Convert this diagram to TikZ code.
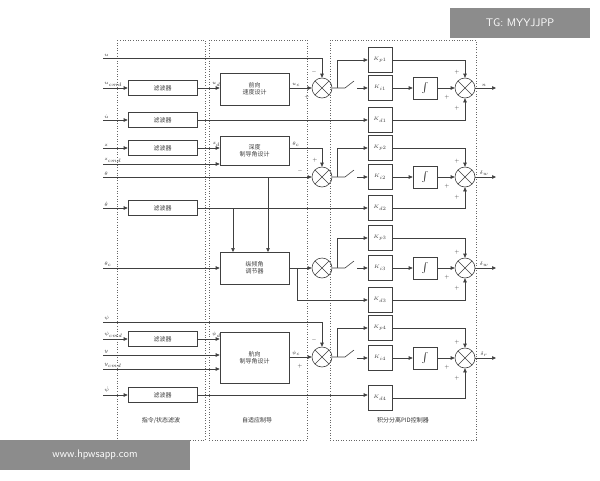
\documentclass[tikz,border=0pt]{standalone}
\usepackage{fontspec}
\newfontfamily\cjk{Noto Sans CJK SC}
\usetikzlibrary{arrows.meta}
\begin{document}
\begin{tikzpicture}[x=1pt,y=-1pt,line width=0.6pt,draw=black!75,
  >={Triangle[length=4pt,width=3.5pt]},
  blk/.style={draw=black!75,minimum width=69pt,minimum height=15pt,inner sep=0,font=\cjk\fontsize{6}{7}\selectfont,text=black!75},
  big/.style={draw=black!75,inner sep=0,font=\cjk\fontsize{6}{7}\selectfont,align=center,text=black!75},
  kb/.style={draw=black!75,minimum width=24pt,minimum height=25pt,inner sep=0,font=\fontsize{4.5}{5}\selectfont,text=black!75},
  ib/.style={draw=black!75,minimum width=24pt,minimum height=22pt,inner sep=0,font=\fontsize{5}{6}\selectfont},
  sm/.style={circle,draw=black!75,minimum size=20pt,inner sep=0,path picture={\draw[black!75] (path picture bounding box.north west)--(path picture bounding box.south east) (path picture bounding box.north east)--(path picture bounding box.south west);}},
  lb/.style={font=\fontsize{5}{6}\selectfont,text=black!80,inner sep=1pt},
  regn/.style={draw=black!60,dotted,line width=0.6pt},
  captn/.style={font=\cjk\fontsize{6}{7}\selectfont,text=black!80}]
\useasboundingbox (0,0) rectangle (600,480);
\fill[white] (0,0) rectangle (600,480);
% dashed regions
\draw[regn] (117,40) rectangle (205,440);
\draw[regn] (209,40) rectangle (307,440);
\draw[regn] (330,40) rectangle (476,440);
\node[captn] (c1) at (161,420) {指令/状态滤波};
\node[captn] (c2) at (257,420) {自适应制导};
\node[captn] (c3) at (403,420) {积分分离PID控制器};
% left input coordinates
\foreach \n/\y in {iu/58,iuc/88,iud/120,iz/148,izc/164,ith/177,ithd/208,ithc/268,ips/322,ipsc/339,iy/355,iyc/369,ipsd/395}
  \coordinate (\n) at (103,\y);
\node[lb,anchor=south west] at (iu) {$u$};
\node[lb,anchor=south west] at (iuc) {$u_{cmd}$};
\node[lb,anchor=south west] at (iud) {$\dot u$};
\node[lb,anchor=south west] at (iz) {$z$};
\node[lb,anchor=south west] at (izc) {$z_{cmd}$};
\node[lb,anchor=south west] at (ith) {$\theta$};
\node[lb,anchor=south west] at (ithd) {$\dot\theta$};
\node[lb,anchor=south west] at (ithc) {$\theta_c$};
\node[lb,anchor=south west] at (ips) {$\psi$};
\node[lb,anchor=south west] at (ipsc) {$\psi_{cmd}$};
\node[lb,anchor=south west] at (iy) {$y$};
\node[lb,anchor=south west] at (iyc) {$y_{cmd}$};
\node[lb,anchor=south west] at (103,394) {$\dot\psi$};
% filters
\node[blk] (f1) at (162.5,88) {滤波器};
\node[blk] (f2) at (162.5,120) {滤波器};
\node[blk] (f3) at (162.5,148) {滤波器};
\node[blk] (f4) at (162.5,208) {滤波器};
\node[blk] (f5) at (162.5,339) {滤波器};
\node[blk] (f6) at (162.5,395) {滤波器};
\draw[->] (iuc)--(f1); \draw[->] (iud)--(f2); \draw[->] (iz)--(f3);
\draw[->] (ithd)--(f4); \draw[->] (ipsc)--(f5); \draw[->] (ipsd)--(f6);
% guidance blocks
\node[big,minimum width=69pt,minimum height=32pt] (g1) at (254.5,89) {前向\\速度设计};
\node[big,minimum width=69pt,minimum height=29pt] (g2) at (254.5,150.5) {深度\\制导角设计};
\node[big,minimum width=69pt,minimum height=32pt] (g3) at (254.5,268) {纵倾角\\调节器};
\node[big,minimum width=69pt,minimum height=51pt] (g4) at (254.5,357.5) {航向\\制导角设计};
\draw[->] (f1)--node[lb,above,pos=0.85]{$u_d$}(g1.west|-f1);
\draw[->] (f3)--node[lb,above,pos=0.85]{$z_d$}(g2.west|-f3);
\draw[->] (izc)--(g2.west|-izc);
\draw[->] (ithc)--(g3);
\draw[->] (f5)--node[lb,above,pos=0.85]{$\psi_d$}(g4.west|-f5);
\draw[->] (iy)--(g4.west|-iy);
\draw[->] (iyc)--(g4.west|-iyc);
% sums
\node[sm] (s1) at (322,88) {};
\node[sm] (s2) at (322,177) {};
\node[sm] (s3) at (322,268) {};
\node[sm] (s4) at (322,357) {};
\draw[->] (iu)-|(s1);
\draw[->] (g1.east|-s1)--node[lb,above,pos=0.3]{$u_c$}(s1);
\node[lb] at (307,97) {$+$}; \node[lb] at (314,72) {$-$};
\draw[->] (g2.east|-iz)--node[lb,above,pos=0.2]{$\theta_c$}(322,148)--(s2);
\draw[->] (ith)--(s2);
\node[lb] at (315,160) {$+$}; \node[lb] at (300,171) {$-$};
\draw[->] (268,177)--(268,252);
\draw[->] (233,208)--(233,252);
\draw[->] (g3)--(s3);
\draw[->] (ips)-|(s4);
\draw[->] (g4.east|-s4)--node[lb,above,pos=0.3]{$\psi_c$}(s4);
\node[lb] at (314,340) {$-$}; \node[lb] at (300,366) {$+$};
% PID blocks
\foreach \r/\yp/\yi/\yd/\sy in {1/60/88/120/88, 2/148/177/208/177, 3/238/268/300/268, 4/328/358/398/357}{
  \node[kb] (kp\r) at (380,\yp) {$K_{p\r}$};
  \node[kb] (ki\r) at (380,\yi) {$K_{i\r}$};
  \node[kb] (kd\r) at (380,\yd) {$K_{d\r}$};
  \node[ib] (in\r) at (425,\yi) {$\int$};
  \node[sm] (so\r) at (465,\yi) {};
  \coordinate (br\r) at (337,\sy);
  \draw (s\r)--(br\r)--(345,\sy)--(354,\sy-7);
  \draw[->] (br\r)|-(kp\r);
  \draw[->] (357,\yi)--(ki\r);
  \draw[->] (ki\r)--(in\r);
  \draw[->] (in\r)--(so\r);
  \draw[->] (kp\r)-|(so\r);
  \draw[->] (kd\r)-|(so\r);
  \coordinate (out\r) at (496,\yi);
  \draw[->] (so\r)--(out\r);
  \node[lb] at (457,\yi-16) {$+$};
  \node[lb] at (447,\yi+9) {$+$};
  \node[lb] at (457,\yi+20) {$+$};
}
\node[lb,anchor=south] at (484,88) {$n$};
\node[lb,anchor=south] at (484,177) {$\delta_w$};
\node[lb,anchor=south] at (484,268) {$\delta_w$};
\node[lb,anchor=south] at (484,358) {$\delta_r$};
\draw[->] (f2)--(kd1);
\draw[->] (f4)--(kd2);
\draw[->] (297,268)|-(kd3);
\draw[->] (f6)--(kd4.west|-f6);
% watermarks
\node[fill=black!45,text=white,font=\sffamily\fontsize{11}{12}\selectfont,minimum width=140pt,minimum height=30pt] (w1) at (520,23) {TG: MYYJJPP};
\node[fill=black!45,text=white,font=\sffamily\fontsize{11}{12}\selectfont,minimum width=190pt,minimum height=30pt] (w2) at (95,455) {www.hpwsapp.com};
\end{tikzpicture}
\end{document}
